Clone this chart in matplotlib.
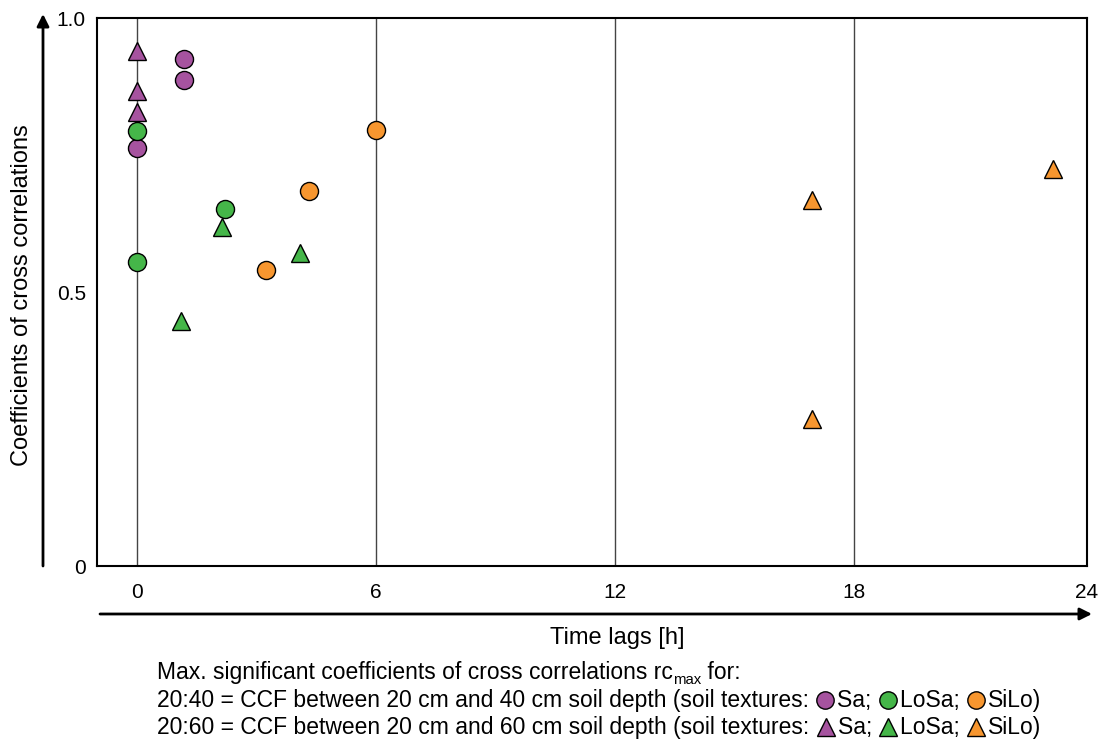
import matplotlib
matplotlib.use('Agg')
import matplotlib.pyplot as plt
from matplotlib.lines import Line2D
from matplotlib.patches import FancyArrowPatch
from matplotlib.transforms import IdentityTransform

# max. significant cross correlation coefficients vs. time lag [h]
sa40_x = [0, 1.18, 1.18]
sa40_y = [0.763, 0.925, 0.886]
sa60_x = [0, 0, 0]
sa60_y = [0.940, 0.866, 0.828]
losa40_x = [0, 0, 2.22]
losa40_y = [0.794, 0.555, 0.652]
losa60_x = [1.1, 2.15, 4.1]
losa60_y = [0.447, 0.618, 0.571]
silo40_x = [3.25, 4.32, 6.0]
silo40_y = [0.540, 0.685, 0.795]
silo60_x = [16.95, 16.95, 23.0]
silo60_y = [0.667, 0.269, 0.724]

grid_x = [0, 6, 12, 18]
xtick_labels = ['0', '6', '12', '18', '24']
ytick_vals = [0, 0.5, 1.0]
ytick_labels = ['0', '0.5', '1.0']

PURPLE = '#A6539F'
GREEN = '#45B649'
ORANGE = '#F7962F'

W, H = 1102, 742
plt.rcParams['font.family'] = ['Liberation Sans', 'DejaVu Sans']

fig = plt.figure(figsize=(W / 100, H / 100), dpi=100)
ax = fig.add_axes([97 / W, 1 - 566 / H, 990 / W, 548 / H])

for gx in grid_x:
    ax.axvline(gx, color='#444444', lw=1.0, zorder=1)

series = [
    (sa40_x, sa40_y, 'o', PURPLE), (sa60_x, sa60_y, '^', PURPLE),
    (losa40_x, losa40_y, 'o', GREEN), (losa60_x, losa60_y, '^', GREEN),
    (silo40_x, silo40_y, 'o', ORANGE), (silo60_x, silo60_y, '^', ORANGE),
]
for xs, ys, m, c in series:
    ax.plot(xs, ys, linestyle='none', marker=m, ms=13, mfc=c, mec='black',
            mew=1.0, zorder=3, clip_on=False)

xmax = 23.85
ax.set_xlim(-1, xmax)
ax.set_ylim(0, 1)
ax.set_xticks(grid_x + [xmax])
ax.set_xticklabels(xtick_labels)
ax.set_yticks(ytick_vals)
ax.set_yticklabels(ytick_labels)
ax.tick_params(length=0, labelsize=15)
ax.tick_params(axis='x', pad=12)
ax.tick_params(axis='y', pad=8)
for s in ax.spines.values():
    s.set_linewidth(1.5)

# axis arrows outside the plot box
arrow = dict(arrowstyle='-|>', lw=2, color='black', mutation_scale=18, shrinkA=0, shrinkB=0)
fig.add_artist(FancyArrowPatch((43 / W, 1 - 566 / H), (43 / W, 1 - 14 / H),
                               transform=fig.transFigure, **arrow))
fig.add_artist(FancyArrowPatch((100 / W, 1 - 614 / H), (1092 / W, 1 - 614 / H),
                               transform=fig.transFigure, **arrow))

fig.text(22 / W, 1 - 295 / H, 'Coefficients of cross correlations', rotation=90,
         ha='center', va='center', fontsize=17)
fig.text(617 / W, 1 - 638 / H, 'Time lags [h]', ha='center', va='center', fontsize=17)

# footer legend written piece by piece
renderer = fig.canvas.get_renderer()
fsize = 16.5


def write_line(pieces, x0, y_top):
    x = x0
    y = H - y_top
    for kind, val, col in pieces:
        if kind == 'text':
            t = fig.text(x, y, val, transform=IdentityTransform(), fontsize=fsize, va='baseline')
            x += t.get_window_extent(renderer).width
        elif kind == 'sub':
            t = fig.text(x, y - 5, val, transform=IdentityTransform(), fontsize=fsize * 0.65,
                         va='baseline')
            x += t.get_window_extent(renderer).width
        else:
            fig.add_artist(Line2D([x + 10], [y + 7], marker=val, ms=12.5, mfc=col, mec='black',
                                  mew=1.0, linestyle='none', transform=IdentityTransform()))
            x += 22


write_line([('text', 'Max. significant coefficients of cross correlations rc', None),
            ('sub', 'max', None), ('text', ' for:', None)], 157, 679)
for label, mk, y in [('20:40 = CCF between 20 cm and 40 cm soil depth (soil textures: ', 'o', 707),
                     ('20:60 = CCF between 20 cm and 60 cm soil depth (soil textures: ', '^', 734)]:
    write_line([('text', label, None), ('mk', mk, PURPLE), ('text', 'Sa; ', None),
                ('mk', mk, GREEN), ('text', 'LoSa; ', None), ('mk', mk, ORANGE),
                ('text', 'SiLo)', None)], 157, y)

fig.savefig('out.png', dpi=100)
